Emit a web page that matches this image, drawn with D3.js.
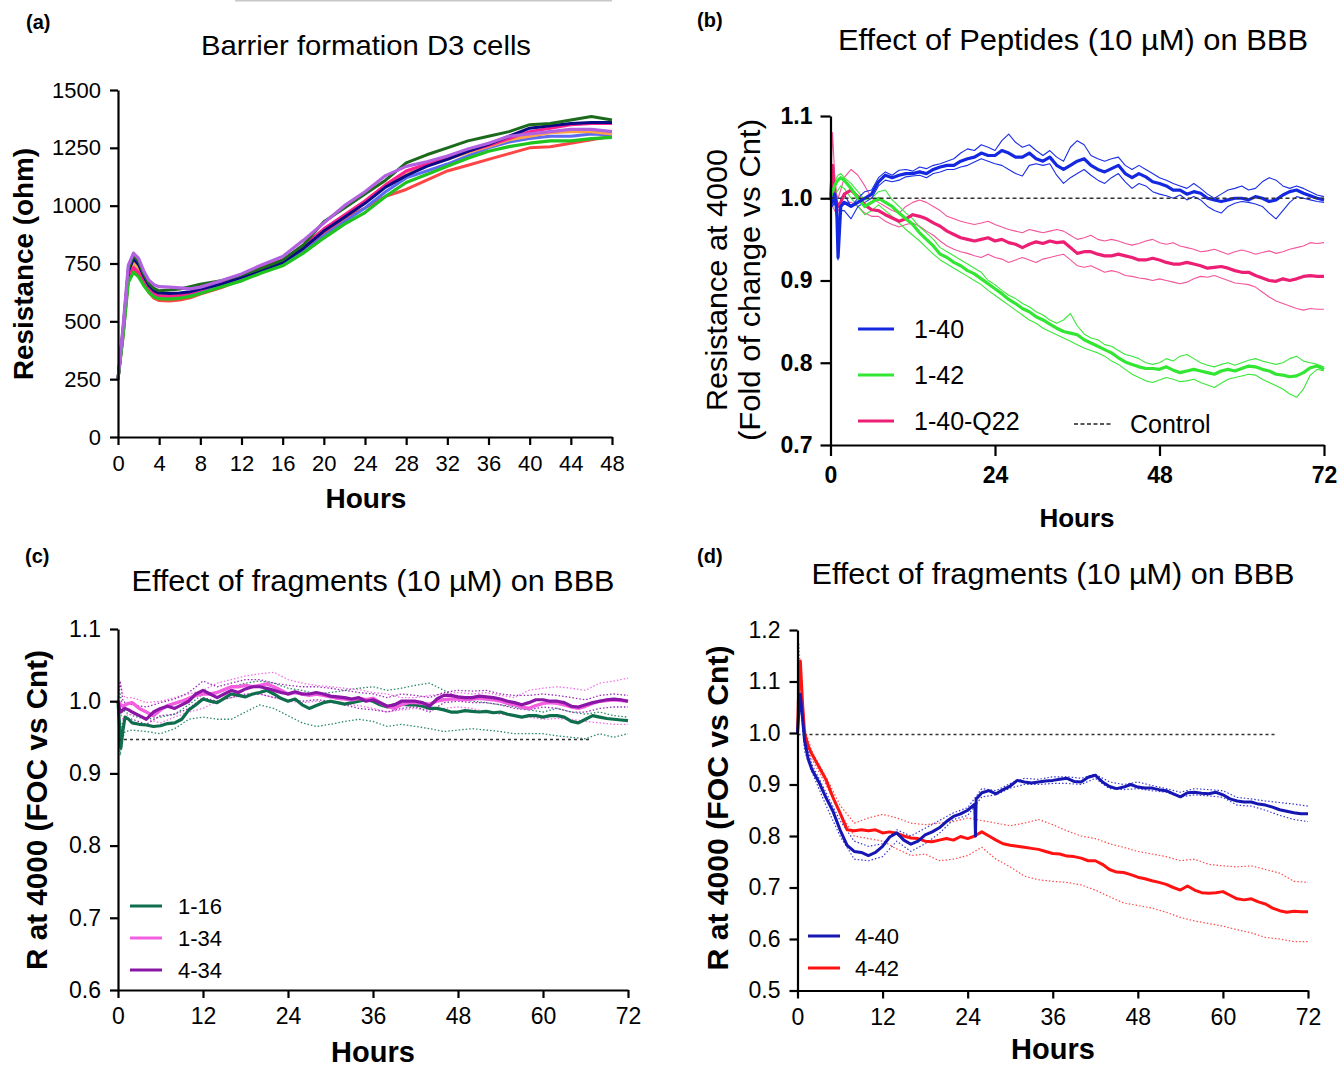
<!DOCTYPE html>
<html>
<head>
<meta charset="utf-8">
<script src="https://cdn.jsdelivr.net/npm/d3@7"></script>
<style>
  body { margin: 0; background: #fff; }
  svg { display: block; }
</style>
</head>
<body>
<svg id="chart" width="1338" height="1067"></svg>
<script>
// ---------- panel (a): barrier formation, 8 wells ----------
const hoursA = [0, 0.5, 1, 1.5, 2, 2.5, 3, 3.5, 4, 5, 6, 7, 8, 10, 12, 14, 16, 18, 20, 22, 24, 26, 28, 30, 32, 34, 36, 38, 40, 42, 44, 46, 48];
const wellDarkGreen = [250,470,725,785,760,705,665,642,632,635,640,650, 660,675,700,730,765,830,930,990,1050,1110,1185,1220,1250,1280,1300,1320,1350,1355,1370,1385,1370];
const wellNavy      = [250,460,715,770,745,695,655,632,622,620,622,628, 640,660,690,720,755,815,890,950,1010,1080,1130,1170,1200,1235,1265,1300,1335,1345,1355,1360,1360];
const wellPink      = [250,450,690,732,712,672,642,622,610,608,612,622, 635,665,700,735,765,825,900,960,1020,1090,1150,1180,1210,1235,1260,1290,1320,1335,1350,1355,1355];
const wellBlue      = [250,445,690,742,718,678,642,620,608,605,608,615, 630,655,680,715,745,800,870,930,990,1060,1120,1150,1180,1215,1250,1275,1290,1300,1300,1310,1305];
const wellOrange    = [250,455,700,752,728,688,652,632,618,615,618,625, 638,663,690,725,760,820,895,960,1020,1090,1145,1175,1200,1230,1255,1285,1300,1315,1320,1320,1310];
const wellPurple    = [250,480,742,795,772,718,678,658,650,648,645,640, 648,675,705,745,780,850,925,1000,1060,1130,1170,1190,1215,1245,1270,1300,1310,1320,1330,1330,1320];
const wellRed       = [250,440,680,722,700,662,625,600,590,588,592,602, 618,645,680,720,750,810,880,945,990,1040,1070,1110,1150,1175,1200,1225,1250,1255,1270,1285,1300];
const wellGreen     = [250,440,668,712,692,655,625,605,598,596,600,608, 620,648,675,710,740,795,860,920,970,1040,1100,1135,1170,1205,1235,1255,1270,1280,1280,1290,1295];

// ---------- panel (b): peptides ----------
const hoursB = [0, 0.3, 0.6, 0.9, 1.1, 1.5, ...d3.range(2, 73)];
const b140 = [1.000, 0.995, 1.005, 0.990, 0.928, 0.990,
  0.995, 0.990, 0.995, 1.000, 1.005, 1.020, 1.028, 1.025, 1.028, 1.030,
  1.030, 1.032, 1.030, 1.035, 1.038, 1.040, 1.040, 1.045, 1.048, 1.050,
  1.055, 1.052, 1.052, 1.058, 1.055, 1.050, 1.050, 1.055, 1.048, 1.045,
  1.050, 1.040, 1.035, 1.040, 1.045, 1.048, 1.040, 1.035, 1.032, 1.036,
  1.040, 1.030, 1.025, 1.030, 1.026, 1.020, 1.018, 1.015, 1.010, 1.010,
  1.005, 1.008, 1.006, 1.000, 0.998, 0.996, 0.998, 1.000, 1.000, 0.998,
  1.002, 1.000, 0.996, 0.998, 1.004, 1.008, 1.010, 1.006, 1.003, 1.000,
  0.998];
const b140hi = [1.000, 1.005, 1.012, 1.000, 0.950, 1.000,
  1.005, 0.990, 1.000, 1.008, 1.010, 1.025, 1.032, 1.028, 1.034, 1.035,
  1.033, 1.038, 1.036, 1.040, 1.042, 1.045, 1.048, 1.055, 1.060, 1.058,
  1.065, 1.062, 1.058, 1.070, 1.078, 1.068, 1.062, 1.065, 1.058, 1.052,
  1.058, 1.050, 1.045, 1.062, 1.070, 1.065, 1.052, 1.048, 1.045, 1.048,
  1.050, 1.040, 1.035, 1.040, 1.035, 1.030, 1.025, 1.022, 1.018, 1.015,
  1.012, 1.018, 1.012, 1.005, 1.000, 1.005, 1.010, 1.012, 1.015, 1.010,
  1.012, 1.020, 1.025, 1.022, 1.015, 1.012, 1.015, 1.012, 1.008, 1.004,
  1.002];
const b140lo = [1.000, 0.990, 0.995, 0.975, 0.925, 0.985,
  0.985, 0.975, 0.990, 0.995, 1.000, 1.015, 1.022, 1.020, 1.022, 1.026,
  1.027, 1.028, 1.025, 1.030, 1.032, 1.035, 1.035, 1.038, 1.040, 1.044,
  1.048, 1.045, 1.042, 1.040, 1.035, 1.030, 1.027, 1.040, 1.042, 1.040,
  1.042, 1.028, 1.018, 1.025, 1.030, 1.035, 1.028, 1.022, 1.018, 1.025,
  1.030, 1.020, 1.012, 1.018, 1.015, 1.008, 1.005, 1.003, 1.000, 1.004,
  0.998, 1.002, 0.998, 0.990, 0.985, 0.982, 0.990, 0.994, 0.996, 0.995,
  0.993, 0.990, 0.982, 0.975, 0.985, 0.995, 1.002, 1.000, 0.998, 0.996,
  0.995];
const b142 = [1.000, 1.008, 1.015, 1.020, 1.022, 1.025,
  1.022, 1.012, 1.000, 0.990, 0.995, 1.000, 0.995, 0.990, 0.982, 0.975,
  0.968, 0.958, 0.950, 0.942, 0.932, 0.928, 0.922, 0.918, 0.912, 0.908,
  0.902, 0.896, 0.890, 0.884, 0.877, 0.872, 0.866, 0.862, 0.856, 0.852,
  0.847, 0.842, 0.838, 0.836, 0.834, 0.828, 0.824, 0.820, 0.816, 0.812,
  0.806, 0.801, 0.798, 0.795, 0.793, 0.793, 0.792, 0.795, 0.791, 0.788,
  0.790, 0.792, 0.790, 0.788, 0.786, 0.790, 0.792, 0.790, 0.793, 0.796,
  0.795, 0.792, 0.790, 0.786, 0.785, 0.783, 0.784, 0.788, 0.794, 0.796,
  0.792];
const b142hi = [1.000, 1.010, 1.020, 1.025, 1.028, 1.030,
  1.025, 1.018, 1.008, 0.998, 1.000, 1.008, 1.010, 0.998, 0.990, 0.982,
  0.975, 0.965, 0.958, 0.950, 0.940, 0.935, 0.930, 0.925, 0.920, 0.915,
  0.910, 0.900, 0.895, 0.888, 0.882, 0.878, 0.872, 0.868, 0.862, 0.858,
  0.852, 0.848, 0.852, 0.860, 0.845, 0.835, 0.830, 0.828, 0.822, 0.820,
  0.815, 0.810, 0.808, 0.805, 0.800, 0.798, 0.800, 0.805, 0.802, 0.808,
  0.810, 0.805, 0.800, 0.797, 0.795, 0.798, 0.800, 0.797, 0.800, 0.803,
  0.805, 0.802, 0.800, 0.798, 0.800, 0.805, 0.808, 0.802, 0.800, 0.798,
  0.795];
const b142lo = [1.000, 1.000, 1.005, 1.008, 1.010, 1.015,
  1.012, 1.000, 0.990, 0.980, 0.985, 0.992, 0.985, 0.978, 0.970, 0.962,
  0.955, 0.948, 0.940, 0.932, 0.925, 0.920, 0.915, 0.910, 0.905, 0.900,
  0.895, 0.888, 0.882, 0.876, 0.870, 0.864, 0.858, 0.852, 0.848, 0.842,
  0.838, 0.834, 0.830, 0.826, 0.822, 0.818, 0.815, 0.812, 0.808, 0.802,
  0.798, 0.792, 0.786, 0.782, 0.778, 0.776, 0.779, 0.782, 0.780, 0.777,
  0.778, 0.780, 0.776, 0.773, 0.770, 0.775, 0.780, 0.782, 0.784, 0.786,
  0.785, 0.780, 0.776, 0.772, 0.768, 0.762, 0.758, 0.768, 0.785, 0.792,
  0.790];
const bQ22 = [1.000, 1.040, 1.005, 0.995, 0.990, 0.995,
  1.005, 1.010, 1.002, 0.992, 0.986, 0.985, 0.980, 0.976, 0.972, 0.975,
  0.980, 0.978, 0.975, 0.970, 0.966, 0.960, 0.956, 0.952, 0.950, 0.948,
  0.950, 0.952, 0.948, 0.950, 0.946, 0.944, 0.940, 0.944, 0.947, 0.945,
  0.948, 0.946, 0.947, 0.940, 0.933, 0.935, 0.935, 0.932, 0.930, 0.930,
  0.932, 0.930, 0.928, 0.925, 0.925, 0.927, 0.925, 0.922, 0.920, 0.920,
  0.922, 0.920, 0.918, 0.915, 0.916, 0.917, 0.915, 0.912, 0.910, 0.910,
  0.906, 0.903, 0.900, 0.899, 0.902, 0.900, 0.902, 0.905, 0.906, 0.905,
  0.905];
const bQ22hi = [1.000, 1.080, 1.030, 1.005, 1.000, 1.010,
  1.025, 1.035, 1.028, 1.015, 1.000, 0.995, 0.990, 0.985, 0.982, 0.990,
  0.995, 0.998, 0.995, 0.990, 0.985, 0.978, 0.975, 0.972, 0.970, 0.968,
  0.970, 0.972, 0.968, 0.965, 0.962, 0.960, 0.958, 0.962, 0.960, 0.958,
  0.960, 0.962, 0.960, 0.955, 0.950, 0.952, 0.955, 0.950, 0.948, 0.950,
  0.948, 0.945, 0.943, 0.945, 0.948, 0.950, 0.946, 0.944, 0.946, 0.942,
  0.940, 0.938, 0.935, 0.936, 0.938, 0.935, 0.932, 0.935, 0.937, 0.935,
  0.932, 0.934, 0.936, 0.933, 0.935, 0.938, 0.940, 0.942, 0.946, 0.945,
  0.946];
const bQ22lo = [1.000, 0.990, 0.985, 0.980, 0.985, 0.990,
  0.995, 0.995, 0.990, 0.982, 0.978, 0.978, 0.972, 0.968, 0.965, 0.968,
  0.970, 0.966, 0.960, 0.955, 0.948, 0.942, 0.938, 0.935, 0.933, 0.930,
  0.928, 0.932, 0.928, 0.926, 0.922, 0.925, 0.928, 0.925, 0.922, 0.926,
  0.928, 0.930, 0.932, 0.925, 0.918, 0.916, 0.918, 0.914, 0.910, 0.912,
  0.910, 0.906, 0.905, 0.903, 0.902, 0.900, 0.902, 0.900, 0.898, 0.896,
  0.898, 0.902, 0.905, 0.904, 0.906, 0.903, 0.900, 0.897, 0.896, 0.895,
  0.892, 0.886, 0.880, 0.875, 0.872, 0.869, 0.866, 0.864, 0.866, 0.865,
  0.865];

// ---------- panel (c): fragments ----------
const hoursC = [0, 0.2, 0.4, 0.7, 1, 1.5, ...d3.range(2, 73)];
const hoursC2 = [0, 0.3, 0.7, 1, ...d3.range(2, 73, 2)];
const c116 = [1.000, 0.970, 0.935, 0.960, 0.978, 0.975,
  0.970, 0.968, 0.967, 0.965, 0.966, 0.969, 0.970, 0.975, 0.988, 0.995,
  1.003, 1.000, 0.998, 1.004, 1.010, 1.008, 1.006, 1.010, 1.012, 1.015,
  1.010, 1.004, 1.000, 1.003, 0.995, 0.990, 0.994, 0.998, 1.000, 0.998,
  0.996, 0.998, 1.000, 1.002, 1.000, 0.995, 0.992, 0.995, 0.996, 0.995,
  0.995, 0.993, 0.990, 0.990, 0.988, 0.985, 0.985, 0.987, 0.986, 0.985,
  0.986, 0.984, 0.985, 0.982, 0.980, 0.978, 0.980, 0.980, 0.978, 0.980,
  0.980, 0.978, 0.972, 0.970, 0.975, 0.980, 0.978, 0.976, 0.975, 0.974,
  0.973];
const c134 = [1.000, 0.998, 0.995, 0.993, 0.995, 0.997,
  0.998, 0.990, 0.985, 0.980, 0.988, 0.994, 0.997, 1.000, 1.004, 1.008,
  1.010, 1.010, 1.012, 1.016, 1.020, 1.020, 1.022, 1.020, 1.022, 1.024,
  1.020, 1.015, 1.010, 1.012, 1.010, 1.008, 1.010, 1.008, 1.006, 1.004,
  1.003, 1.002, 1.004, 1.002, 1.004, 0.998, 0.993, 0.990, 0.995, 0.998,
  0.998, 0.997, 0.996, 1.000, 1.002, 1.003, 1.003, 1.002, 1.003, 1.004,
  1.003, 1.002, 1.000, 0.997, 0.995, 0.992, 0.990, 0.994, 0.997, 0.998,
  0.997, 0.995, 0.992, 0.990, 0.993, 0.997, 1.000, 1.001, 1.002, 1.001,
  1.000];
const c434 = [1.000, 0.990, 0.985, 0.988, 0.990, 0.988,
  0.985, 0.980, 0.975, 0.985, 0.990, 0.993, 0.990, 0.995, 1.000, 1.010,
  1.015, 1.010, 1.005, 1.010, 1.015, 1.012, 1.017, 1.020, 1.020, 1.018,
  1.015, 1.012, 1.010, 1.013, 1.010, 1.010, 1.012, 1.010, 1.007, 1.006,
  1.005, 1.003, 1.005, 1.000, 1.002, 0.998, 0.993, 0.995, 1.000, 1.000,
  1.000, 0.998, 0.993, 1.003, 1.008, 1.008, 1.006, 1.005, 1.005, 1.007,
  1.006, 1.005, 1.003, 1.000, 0.998, 0.995, 0.998, 1.002, 1.002, 1.000,
  1.000, 0.998, 0.993, 0.992, 0.995, 0.998, 1.000, 1.002, 1.003, 1.002,
  1.000];
const c116hi = [1.000, 1.010, 0.990, 0.985,
  0.980, 0.975, 0.978, 0.982, 0.995, 1.010, 1.012, 1.020, 1.025, 1.028,
  1.025, 1.018, 1.015, 1.010, 1.012, 1.015, 1.018, 1.020, 1.015, 1.018,
  1.022, 1.025, 1.015, 1.005, 1.000, 0.998, 0.995, 0.992, 0.988, 0.985,
  0.990, 0.985, 0.982, 0.985, 0.980, 0.978];
const c116lo = [1.000, 0.925, 0.950, 0.958,
  0.960, 0.958, 0.955, 0.962, 0.975, 0.978, 0.975, 0.975, 0.985, 0.995,
  0.990, 0.980, 0.970, 0.965, 0.968, 0.972, 0.975, 0.972, 0.965, 0.968,
  0.965, 0.962, 0.958, 0.960, 0.962, 0.960, 0.958, 0.955, 0.955, 0.955,
  0.952, 0.950, 0.948, 0.955, 0.950, 0.955];
const c134hi = [1.000, 1.025, 1.010, 1.005,
  1.005, 0.998, 1.000, 1.005, 1.010, 1.015, 1.025, 1.030, 1.035, 1.038,
  1.040, 1.030, 1.025, 1.022, 1.020, 1.018, 1.016, 1.012, 1.010, 1.005,
  1.005, 1.008, 1.010, 1.012, 1.010, 1.012, 1.008, 1.005, 1.015, 1.018,
  1.020, 1.018, 1.015, 1.025, 1.028, 1.032];
const c134lo = [1.000, 0.985, 0.975, 0.980,
  0.982, 0.975, 0.970, 0.978, 0.985, 0.990, 1.000, 1.005, 1.008, 1.010,
  1.005, 1.000, 0.998, 1.000, 0.998, 0.996, 0.994, 0.990, 0.985, 0.988,
  0.990, 0.988, 0.990, 0.992, 0.990, 0.985, 0.982, 0.980, 0.978, 0.975,
  0.976, 0.975, 0.972, 0.970, 0.968, 0.968];
const c434hi = [1.000, 1.028, 1.000, 0.998,
  0.995, 0.992, 0.998, 1.003, 1.012, 1.028, 1.020, 1.025, 1.030, 1.030,
  1.025, 1.022, 1.020, 1.020, 1.018, 1.015, 1.012, 1.010, 1.005, 1.010,
  1.008, 1.005, 1.012, 1.015, 1.014, 1.015, 1.010, 1.008, 1.008, 1.010,
  1.008, 1.005, 1.002, 1.008, 1.010, 1.008];
const c434lo = [1.000, 0.960, 0.972, 0.978,
  0.975, 0.968, 0.980, 0.982, 0.990, 1.005, 1.000, 1.005, 1.010, 1.010,
  1.005, 1.002, 1.000, 1.002, 1.000, 0.995, 0.990, 0.988, 0.985, 0.990,
  0.992, 0.985, 0.998, 1.000, 0.998, 0.998, 0.995, 0.990, 0.988, 0.992,
  0.990, 0.985, 0.985, 0.990, 0.992, 0.992];

// ---------- panel (d): fragments ----------
const hoursD = [0, 0.2, 0.4, 0.7, 1, 1.5, ...d3.range(2, 26), 25.1, 25.2, ...d3.range(26, 73)];
const hoursD2 = [0, 0.2, 0.4, 1, ...d3.range(2, 73, 2)];
const d440 = [1.000, 1.045, 1.075, 1.030, 0.985, 0.950,
  0.930, 0.905, 0.875, 0.848, 0.812, 0.782, 0.770, 0.768, 0.762, 0.768,
  0.780, 0.798, 0.806, 0.792, 0.784, 0.790, 0.802, 0.808, 0.816, 0.828,
  0.838, 0.843, 0.850, 0.862, 0.800, 0.872, 0.884, 0.888, 0.882, 0.890, 0.897, 0.908,
  0.905, 0.903, 0.905, 0.907, 0.908, 0.910, 0.912, 0.906, 0.905, 0.914,
  0.918, 0.905, 0.896, 0.892, 0.895, 0.900, 0.895, 0.893, 0.893, 0.890,
  0.888, 0.882, 0.876, 0.884, 0.885, 0.883, 0.882, 0.885, 0.880, 0.872,
  0.868, 0.866, 0.866, 0.862, 0.860, 0.856, 0.851, 0.848, 0.845, 0.843,
  0.843];
const d442 = [1.000, 1.100, 1.140, 1.060, 1.000, 0.975,
  0.960, 0.935, 0.910, 0.875, 0.845, 0.812, 0.810, 0.812, 0.810, 0.812,
  0.806, 0.808, 0.805, 0.800, 0.796, 0.795, 0.790, 0.789, 0.792, 0.795,
  0.792, 0.799, 0.795, 0.800, 0.800, 0.802, 0.808, 0.800, 0.792, 0.785, 0.782, 0.780,
  0.778, 0.776, 0.774, 0.770, 0.766, 0.765, 0.761, 0.760, 0.757, 0.752,
  0.752, 0.745, 0.735, 0.730, 0.729, 0.725, 0.720, 0.717, 0.713, 0.710,
  0.706, 0.700, 0.695, 0.703, 0.695, 0.690, 0.689, 0.690, 0.692, 0.685,
  0.678, 0.676, 0.678, 0.672, 0.668, 0.660, 0.655, 0.652, 0.654, 0.653,
  0.653];
const d440hi = [1.000, 1.060, 1.080, 0.990,
  0.940, 0.885, 0.830, 0.790, 0.780, 0.785, 0.812, 0.800, 0.815, 0.830,
  0.845, 0.855, 0.892, 0.888, 0.902, 0.912, 0.910, 0.915, 0.915, 0.912,
  0.920, 0.905, 0.900, 0.905, 0.898, 0.892, 0.885, 0.892, 0.890, 0.888,
  0.875, 0.872, 0.868, 0.865, 0.862, 0.858];
const d440lo = [1.000, 1.030, 1.060, 0.965,
  0.925, 0.860, 0.800, 0.755, 0.752, 0.760, 0.790, 0.770, 0.785, 0.805,
  0.832, 0.840, 0.876, 0.880, 0.893, 0.900, 0.900, 0.902, 0.902, 0.900,
  0.912, 0.892, 0.890, 0.892, 0.888, 0.885, 0.876, 0.880, 0.878, 0.875,
  0.860, 0.858, 0.850, 0.840, 0.832, 0.828];
const d442hi = [1.000, 1.175, 1.120, 1.010,
  0.965, 0.915, 0.860, 0.825, 0.835, 0.842, 0.835, 0.825, 0.822, 0.825,
  0.828, 0.835, 0.830, 0.825, 0.820, 0.825, 0.832, 0.822, 0.810, 0.800,
  0.795, 0.785, 0.778, 0.770, 0.765, 0.760, 0.752, 0.755, 0.745, 0.742,
  0.740, 0.742, 0.735, 0.728, 0.712, 0.710];
const d442lo = [1.000, 1.120, 1.100, 0.990,
  0.950, 0.900, 0.845, 0.800, 0.795, 0.790, 0.775, 0.762, 0.765, 0.752,
  0.755, 0.762, 0.778, 0.755, 0.740, 0.722, 0.715, 0.712, 0.710, 0.705,
  0.695, 0.682, 0.670, 0.665, 0.660, 0.652, 0.642, 0.635, 0.630, 0.625,
  0.618, 0.612, 0.603, 0.600, 0.595, 0.595];

const FONT = "'Liberation Sans', Arial, Helvetica, sans-serif";
const svg = d3.select("#chart");

// stray grey rule at the top of the figure
svg.append("line").attr("x1", 235).attr("x2", 612).attr("y1", 0.5).attr("y2", 0.5)
  .attr("stroke", "#c8c8c8").attr("stroke-width", 2);

function text(x, y, str, o = {}) {
  const t = svg.append("text")
    .attr("x", x).attr("y", y)
    .attr("font-family", FONT)
    .attr("font-size", o.size || 20)
    .attr("font-weight", o.bold ? "bold" : "normal")
    .attr("text-anchor", o.anchor || "start")
    .attr("fill", "#000")
    .text(str);
  if (o.rotate) t.attr("transform", `rotate(-90, ${x}, ${y})`);
  if (o.len) t.attr("textLength", o.len).attr("lengthAdjust", "spacingAndGlyphs");
  return t;
}

function panel(cfg) {
  const x = d3.scaleLinear().domain(cfg.xDomain).range(cfg.xRange);
  const y = d3.scaleLinear().domain(cfg.yDomain).range(cfg.yRange);
  const g = svg.append("g");
  const line = d3.line().x((d) => x(d[0])).y((d) => y(d[1]));

  cfg.series.forEach((s) => {
    const pts = s.hours.map((h, i) => [h, s.values[i]]).filter((d) => d[1] != null);
    g.append("path")
      .datum(pts)
      .attr("fill", "none")
      .attr("stroke", s.color)
      .attr("stroke-width", s.width)
      .attr("stroke-dasharray", s.dash || null)
      .attr("stroke-linejoin", "round")
      .attr("d", line);
  });

  if (cfg.ref) {
    g.append("line")
      .attr("x1", x(cfg.ref.from)).attr("x2", x(cfg.ref.to))
      .attr("y1", y(cfg.ref.value)).attr("y2", y(cfg.ref.value))
      .attr("stroke", "#333").attr("stroke-width", cfg.ref.width)
      .attr("stroke-dasharray", cfg.ref.dash);
  }

  const xa = g.append("g")
    .attr("transform", `translate(0,${cfg.yRange[0]})`)
    .call(d3.axisBottom(x).tickValues(cfg.xTicks).tickSize(cfg.xTick).tickPadding(cfg.xPad)
      .tickSizeOuter(0).tickFormat(d3.format("d")));
  const ya = g.append("g")
    .attr("transform", `translate(${cfg.xRange[0]},0)`)
    .call(d3.axisLeft(y).tickValues(cfg.yTicks).tickSize(cfg.yTick).tickPadding(cfg.yPad)
      .tickSizeOuter(0).tickFormat(d3.format(cfg.yFormat)));
  [xa, ya].forEach((a) => {
    a.attr("font-family", FONT).attr("font-size", cfg.tickSize)
      .attr("font-weight", cfg.tickBold ? "bold" : "normal");
    a.selectAll("path, line").attr("stroke", "#000").attr("stroke-width", 2.2);
    a.selectAll("text").attr("fill", "#000");
  });

  return { x, y };
}

function legend(items, x1, x2, tx, size, width) {
  items.forEach((it) => {
    svg.append("line").attr("x1", x1).attr("x2", x2).attr("y1", it.y).attr("y2", it.y)
      .attr("stroke", it.color).attr("stroke-width", width);
    text(tx, it.y + size * 0.36, it.label, { size });
  });
}

// ================= (a) =================
text(26, 29, "(a)", { size: 20, bold: true });
text(366, 55, "Barrier formation D3 cells", { size: 28, anchor: "middle", len: 330 });
panel({
  xDomain: [0, 48], xRange: [118, 612],
  yDomain: [0, 1500], yRange: [437, 90],
  xTicks: d3.range(0, 49, 4), yTicks: d3.range(0, 1501, 250),
  xTick: 8, xPad: 10, yTick: 8, yPad: 9, yFormat: "d",
  tickSize: 22,
  series: [
    { hours: hoursA, values: wellRed, color: "#ff4545", width: 3 },
    { hours: hoursA, values: wellBlue, color: "#5b6cf2", width: 3 },
    { hours: hoursA, values: wellOrange, color: "#ffa347", width: 3 },
    { hours: hoursA, values: wellPink, color: "#ff1f8e", width: 3 },
    { hours: hoursA, values: wellNavy, color: "#0a0a86", width: 3 },
    { hours: hoursA, values: wellDarkGreen, color: "#1c6a1c", width: 3 },
    { hours: hoursA, values: wellGreen, color: "#1fc41f", width: 3.2 },
    { hours: hoursA, values: wellPurple, color: "#b262e0", width: 3.2 },
  ],
});
text(33, 264, "Resistance (ohm)", { size: 28, bold: true, anchor: "middle", rotate: true, len: 232 });
text(366, 508, "Hours", { size: 28, bold: true, anchor: "middle" });

// ================= (b) =================
text(697, 27, "(b)", { size: 20, bold: true });
text(1073, 50, "Effect of Peptides (10 \u00b5M) on BBB", { size: 30, anchor: "middle", len: 470 });
panel({
  xDomain: [0, 72], xRange: [830.5, 1324],
  yDomain: [0.7, 1.1], yRange: [445, 116],
  xTicks: [0, 24, 48, 72], yTicks: [0.7, 0.8, 0.9, 1.0, 1.1],
  xTick: 11, xPad: 11, yTick: 10, yPad: 8, yFormat: ".1f",
  tickSize: 23, tickBold: true,
  series: [
    { hours: hoursB, values: bQ22hi, color: "#f2559a", width: 1.1 },
    { hours: hoursB, values: bQ22lo, color: "#f2559a", width: 1.1 },
    { hours: hoursB, values: b142hi, color: "#3ae83a", width: 1.1 },
    { hours: hoursB, values: b142lo, color: "#3ae83a", width: 1.1 },
    { hours: hoursB, values: b140hi, color: "#1a2ee6", width: 1.1 },
    { hours: hoursB, values: b140lo, color: "#1a2ee6", width: 1.1 },
    { hours: hoursB, values: bQ22, color: "#ec1f74", width: 3.2 },
    { hours: hoursB, values: b142, color: "#33e633", width: 3.2 },
    { hours: hoursB, values: b140, color: "#1428e0", width: 3.2 },
  ],
  ref: { value: 1.0, from: 0, to: 72, dash: "4,3", width: 1.3 },
});
legend([
  { y: 329, color: "#1428e0", label: "1-40" },
  { y: 375, color: "#33e633", label: "1-42" },
  { y: 421, color: "#ec1f74", label: "1-40-Q22" },
], 858, 894, 914, 25, 3);
svg.append("line").attr("x1", 1074).attr("x2", 1111).attr("y1", 424).attr("y2", 424)
  .attr("stroke", "#222").attr("stroke-width", 1.3).attr("stroke-dasharray", "4,2.5");
text(1130, 433, "Control", { size: 25 });
text(727, 280, "Resistance at 4000", { size: 30, anchor: "middle", rotate: true, len: 262 });
text(760, 280, "(Fold of change vs Cnt)", { size: 30, anchor: "middle", rotate: true, len: 322 });
text(1077, 527, "Hours", { size: 26, bold: true, anchor: "middle" });

// ================= (c) =================
text(25, 563, "(c)", { size: 20, bold: true });
text(373, 591, "Effect of fragments (10 \u00b5M) on BBB", { size: 29, anchor: "middle", len: 483 });
panel({
  xDomain: [0, 72], xRange: [118, 628],
  yDomain: [0.6, 1.1], yRange: [990, 629],
  xTicks: d3.range(0, 73, 12), yTicks: [0.6, 0.7, 0.8, 0.9, 1.0, 1.1],
  xTick: 8, xPad: 10, yTick: 8, yPad: 9, yFormat: ".1f",
  tickSize: 23,
  series: [
    { hours: hoursC2, values: c116hi, color: "#2a8a66", width: 1.3, dash: "1.5,2" },
    { hours: hoursC2, values: c116lo, color: "#2a8a66", width: 1.3, dash: "1.5,2" },
    { hours: hoursC2, values: c134hi, color: "#f46ee6", width: 1.3, dash: "1.5,2" },
    { hours: hoursC2, values: c134lo, color: "#f46ee6", width: 1.3, dash: "1.5,2" },
    { hours: hoursC2, values: c434hi, color: "#9a2ab8", width: 1.3, dash: "1.5,2" },
    { hours: hoursC2, values: c434lo, color: "#9a2ab8", width: 1.3, dash: "1.5,2" },
    { hours: hoursC, values: c116, color: "#0f6e4c", width: 3.2 },
    { hours: hoursC, values: c134, color: "#f45ee0", width: 3.4 },
    { hours: hoursC, values: c434, color: "#8a16a6", width: 3.2 },
  ],
  ref: { value: 0.947, from: 0, to: 66.8, dash: "3,3", width: 1.5 },
});
legend([
  { y: 906, color: "#0f6e4c", label: "1-16" },
  { y: 938, color: "#f45ee0", label: "1-34" },
  { y: 970, color: "#8a16a6", label: "4-34" },
], 130, 162, 178, 22, 3);
text(47, 810, "R at 4000 (FOC vs Cnt)", { size: 30, bold: true, anchor: "middle", rotate: true, len: 320 });
text(373, 1062, "Hours", { size: 29, bold: true, anchor: "middle" });

// ================= (d) =================
text(697, 563, "(d)", { size: 20, bold: true });
text(1053, 584, "Effect of fragments (10 \u00b5M) on BBB", { size: 29, anchor: "middle", len: 483 });
panel({
  xDomain: [0, 72], xRange: [797.5, 1308],
  yDomain: [0.5, 1.2], yRange: [990.5, 630],
  xTicks: d3.range(0, 73, 12), yTicks: [0.5, 0.6, 0.7, 0.8, 0.9, 1.0, 1.1, 1.2],
  xTick: 8, xPad: 10, yTick: 8, yPad: 9, yFormat: ".1f",
  tickSize: 23,
  series: [
    { hours: hoursD2, values: d442hi, color: "#ff4a4a", width: 1.2, dash: "1.5,2" },
    { hours: hoursD2, values: d442lo, color: "#ff4a4a", width: 1.2, dash: "1.5,2" },
    { hours: hoursD2, values: d440hi, color: "#3a3ad0", width: 1.2, dash: "1.5,2" },
    { hours: hoursD2, values: d440lo, color: "#3a3ad0", width: 1.2, dash: "1.5,2" },
    { hours: hoursD, values: d442, color: "#ff1212", width: 3 },
    { hours: hoursD, values: d440, color: "#1616b2", width: 3 },
  ],
  ref: { value: 0.997, from: 0, to: 67.5, dash: "3,3", width: 1.5 },
});
legend([
  { y: 936, color: "#1616b2", label: "4-40" },
  { y: 968, color: "#ff1212", label: "4-42" },
], 808, 840, 855, 22, 3);
text(728, 808, "R at 4000 (FOC vs Cnt)", { size: 30, bold: true, anchor: "middle", rotate: true, len: 325 });
text(1053, 1059, "Hours", { size: 29, bold: true, anchor: "middle" });
</script>
</body>
</html>
